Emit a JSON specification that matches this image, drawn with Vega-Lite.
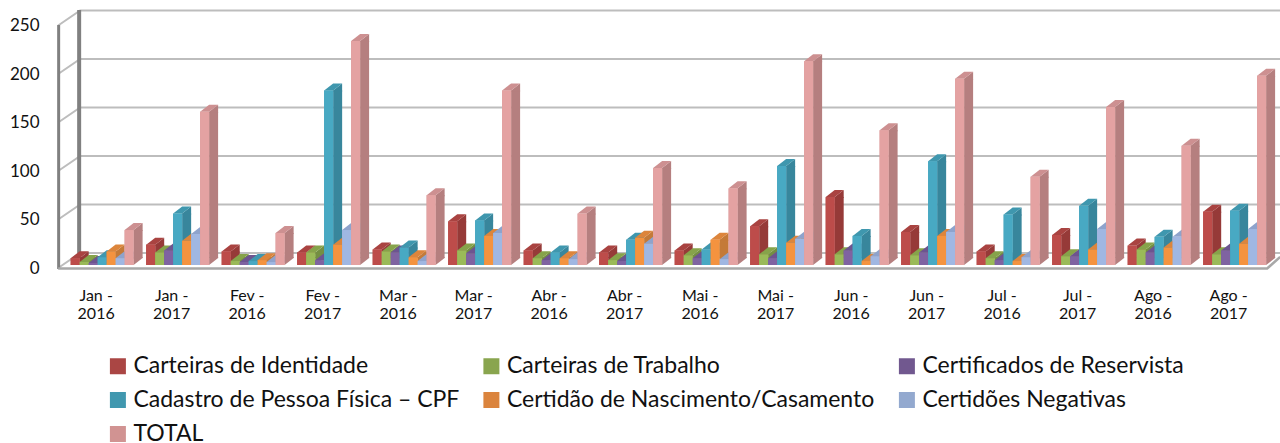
{"$schema":"https://vega.github.io/schema/vega-lite/v6.json","width":1208,"height":242.5,"autosize":{"type":"none"},"padding":{"left":64.4,"top":22.5,"right":7.6,"bottom":178},"background":"white","config":{"view":{"stroke":null},"font":"Lato"},
"datasets":{"bars":[
{"m":"Jan - 2016","s":"Carteiras de Identidade","v":7},{"m":"Jan - 2016","s":"Carteiras de Trabalho","v":3},{"m":"Jan - 2016","s":"Certificados de Reservista","v":2},{"m":"Jan - 2016","s":"Cadastro de Pessoa Física – CPF","v":8},{"m":"Jan - 2016","s":"Certidão de Nascimento/Casamento","v":14},{"m":"Jan - 2016","s":"Certidões Negativas","v":7},{"m":"Jan - 2016","s":"TOTAL","v":36},
{"m":"Jan - 2017","s":"Carteiras de Identidade","v":21},{"m":"Jan - 2017","s":"Carteiras de Trabalho","v":13},{"m":"Jan - 2017","s":"Certificados de Reservista","v":15},{"m":"Jan - 2017","s":"Cadastro de Pessoa Física – CPF","v":53},{"m":"Jan - 2017","s":"Certidão de Nascimento/Casamento","v":25},{"m":"Jan - 2017","s":"Certidões Negativas","v":32},{"m":"Jan - 2017","s":"TOTAL","v":158},
{"m":"Fev - 2016","s":"Carteiras de Identidade","v":14},{"m":"Fev - 2016","s":"Carteiras de Trabalho","v":4},{"m":"Fev - 2016","s":"Certificados de Reservista","v":3},{"m":"Fev - 2016","s":"Cadastro de Pessoa Física – CPF","v":4},{"m":"Fev - 2016","s":"Certidão de Nascimento/Casamento","v":5},{"m":"Fev - 2016","s":"Certidões Negativas","v":3},{"m":"Fev - 2016","s":"TOTAL","v":33},
{"m":"Fev - 2017","s":"Carteiras de Identidade","v":13},{"m":"Fev - 2017","s":"Carteiras de Trabalho","v":13},{"m":"Fev - 2017","s":"Certificados de Reservista","v":5},{"m":"Fev - 2017","s":"Cadastro de Pessoa Física – CPF","v":180},{"m":"Fev - 2017","s":"Certidão de Nascimento/Casamento","v":21},{"m":"Fev - 2017","s":"Certidões Negativas","v":36},{"m":"Fev - 2017","s":"TOTAL","v":231},
{"m":"Mar - 2016","s":"Carteiras de Identidade","v":16},{"m":"Mar - 2016","s":"Carteiras de Trabalho","v":14},{"m":"Mar - 2016","s":"Certificados de Reservista","v":13},{"m":"Mar - 2016","s":"Cadastro de Pessoa Física – CPF","v":18},{"m":"Mar - 2016","s":"Certidão de Nascimento/Casamento","v":8},{"m":"Mar - 2016","s":"Certidões Negativas","v":4},{"m":"Mar - 2016","s":"TOTAL","v":72},
{"m":"Mar - 2017","s":"Carteiras de Identidade","v":45},{"m":"Mar - 2017","s":"Carteiras de Trabalho","v":15},{"m":"Mar - 2017","s":"Certificados de Reservista","v":12},{"m":"Mar - 2017","s":"Cadastro de Pessoa Física – CPF","v":46},{"m":"Mar - 2017","s":"Certidão de Nascimento/Casamento","v":30},{"m":"Mar - 2017","s":"Certidões Negativas","v":33},{"m":"Mar - 2017","s":"TOTAL","v":180},
{"m":"Abr - 2016","s":"Carteiras de Identidade","v":15},{"m":"Abr - 2016","s":"Carteiras de Trabalho","v":7},{"m":"Abr - 2016","s":"Certificados de Reservista","v":5},{"m":"Abr - 2016","s":"Cadastro de Pessoa Física – CPF","v":13},{"m":"Abr - 2016","s":"Certidão de Nascimento/Casamento","v":7},{"m":"Abr - 2016","s":"Certidões Negativas","v":6},{"m":"Abr - 2016","s":"TOTAL","v":53},
{"m":"Abr - 2017","s":"Carteiras de Identidade","v":13},{"m":"Abr - 2017","s":"Carteiras de Trabalho","v":5},{"m":"Abr - 2017","s":"Certificados de Reservista","v":4},{"m":"Abr - 2017","s":"Cadastro de Pessoa Física – CPF","v":26},{"m":"Abr - 2017","s":"Certidão de Nascimento/Casamento","v":28},{"m":"Abr - 2017","s":"Certidões Negativas","v":22},{"m":"Abr - 2017","s":"TOTAL","v":100},
{"m":"Mai - 2016","s":"Carteiras de Identidade","v":15},{"m":"Mai - 2016","s":"Carteiras de Trabalho","v":10},{"m":"Mai - 2016","s":"Certificados de Reservista","v":7},{"m":"Mai - 2016","s":"Cadastro de Pessoa Física – CPF","v":16},{"m":"Mai - 2016","s":"Certidão de Nascimento/Casamento","v":26},{"m":"Mai - 2016","s":"Certidões Negativas","v":6},{"m":"Mai - 2016","s":"TOTAL","v":79},
{"m":"Mai - 2017","s":"Carteiras de Identidade","v":40},{"m":"Mai - 2017","s":"Carteiras de Trabalho","v":11},{"m":"Mai - 2017","s":"Certificados de Reservista","v":7},{"m":"Mai - 2017","s":"Cadastro de Pessoa Física – CPF","v":102},{"m":"Mai - 2017","s":"Certidão de Nascimento/Casamento","v":23},{"m":"Mai - 2017","s":"Certidões Negativas","v":27},{"m":"Mai - 2017","s":"TOTAL","v":210},
{"m":"Jun - 2016","s":"Carteiras de Identidade","v":70},{"m":"Jun - 2016","s":"Carteiras de Trabalho","v":11},{"m":"Jun - 2016","s":"Certificados de Reservista","v":15},{"m":"Jun - 2016","s":"Cadastro de Pessoa Física – CPF","v":30},{"m":"Jun - 2016","s":"Certidão de Nascimento/Casamento","v":4},{"m":"Jun - 2016","s":"Certidões Negativas","v":9},{"m":"Jun - 2016","s":"TOTAL","v":139},
{"m":"Jun - 2017","s":"Carteiras de Identidade","v":34},{"m":"Jun - 2017","s":"Carteiras de Trabalho","v":10},{"m":"Jun - 2017","s":"Certificados de Reservista","v":13},{"m":"Jun - 2017","s":"Cadastro de Pessoa Física – CPF","v":107},{"m":"Jun - 2017","s":"Certidão de Nascimento/Casamento","v":30},{"m":"Jun - 2017","s":"Certidões Negativas","v":34},{"m":"Jun - 2017","s":"TOTAL","v":192},
{"m":"Jul - 2016","s":"Carteiras de Identidade","v":14},{"m":"Jul - 2016","s":"Carteiras de Trabalho","v":7},{"m":"Jul - 2016","s":"Certificados de Reservista","v":5},{"m":"Jul - 2016","s":"Cadastro de Pessoa Física – CPF","v":52},{"m":"Jul - 2016","s":"Certidão de Nascimento/Casamento","v":4},{"m":"Jul - 2016","s":"Certidões Negativas","v":8},{"m":"Jul - 2016","s":"TOTAL","v":91},
{"m":"Jul - 2017","s":"Carteiras de Identidade","v":31},{"m":"Jul - 2017","s":"Carteiras de Trabalho","v":9},{"m":"Jul - 2017","s":"Certificados de Reservista","v":9},{"m":"Jul - 2017","s":"Cadastro de Pessoa Física – CPF","v":61},{"m":"Jul - 2017","s":"Certidão de Nascimento/Casamento","v":16},{"m":"Jul - 2017","s":"Certidões Negativas","v":37},{"m":"Jul - 2017","s":"TOTAL","v":163},
{"m":"Ago - 2016","s":"Carteiras de Identidade","v":20},{"m":"Ago - 2016","s":"Carteiras de Trabalho","v":16},{"m":"Ago - 2016","s":"Certificados de Reservista","v":13},{"m":"Ago - 2016","s":"Cadastro de Pessoa Física – CPF","v":29},{"m":"Ago - 2016","s":"Certidão de Nascimento/Casamento","v":18},{"m":"Ago - 2016","s":"Certidões Negativas","v":29},{"m":"Ago - 2016","s":"TOTAL","v":123},
{"m":"Ago - 2017","s":"Carteiras de Identidade","v":55},{"m":"Ago - 2017","s":"Carteiras de Trabalho","v":11},{"m":"Ago - 2017","s":"Certificados de Reservista","v":15},{"m":"Ago - 2017","s":"Cadastro de Pessoa Física – CPF","v":56},{"m":"Ago - 2017","s":"Certidão de Nascimento/Casamento","v":22},{"m":"Ago - 2017","s":"Certidões Negativas","v":37},{"m":"Ago - 2017","s":"TOTAL","v":195}
],"ticks":[{"t":0},{"t":50},{"t":100},{"t":150},{"t":200},{"t":250}],"floor":[{"t":0}]},
"data":{"name":"bars"},
"encoding":{
"x":{"field":"m","type":"nominal","sort":null,"title":null,"scale":{"domain":["Jan - 2016","Jan - 2017","Fev - 2016","Fev - 2017","Mar - 2016","Mar - 2017","Abr - 2016","Abr - 2017","Mai - 2016","Mai - 2017","Jun - 2016","Jun - 2017","Jul - 2016","Jul - 2017","Ago - 2016","Ago - 2017"],"paddingInner":0.16667,"paddingOuter":0.08333},"axis":{"domain":false,"ticks":false,"grid":false,"labelAngle":0,"labelOffset":-6,"labelPadding":22,"labelFontSize":16,"labelColor":"#111111","labelFont":"Lato","labelLineHeight":18,"labelExpr":"[split(datum.label,' - ')[0]+' -',split(datum.label,' - ')[1]]","labelSeparation":0,"labelOverlap":false}},
"xOffset":{"field":"s","type":"nominal","sort":null,"scale":{"type":"band","domain":["Carteiras de Identidade","Carteiras de Trabalho","Certificados de Reservista","Cadastro de Pessoa Física – CPF","Certidão de Nascimento/Casamento","Certidões Negativas","TOTAL"],"paddingInner":0,"paddingOuter":0}},
"y":{"field":"v","type":"quantitative","title":null,"scale":{"domain":[0,250],"nice":false},"axis":{"domain":false,"ticks":false,"grid":false,"values":[0,50,100,150,200,250],"labelPadding":25.4,"labelOffset":3,"labelFontSize":17,"labelColor":"#111111","labelFont":"Lato"}}
},
"layer":[
{"data":{"name":"ticks"},"mark":{"type":"point","shape":"M-44,3L-22,-12L1178,-12","filled":false,"size":4,"stroke":"#bdbdbd","strokeWidth":2,"opacity":1},"encoding":{"x":{"datum":"Jan - 2016"},"xOffset":null,"y":{"field":"t","type":"quantitative"}}},
{"data":{"name":"floor"},"mark":{"type":"point","shape":"M-23,-12L-23,-255","filled":false,"size":4,"stroke":"#808080","strokeWidth":4,"opacity":1},"encoding":{"x":{"datum":"Jan - 2016"},"xOffset":null,"y":{"field":"t","type":"quantitative"}}},
{"data":{"name":"floor"},"mark":{"type":"point","shape":"M-43.5,4L-43.5,-240","filled":false,"size":4,"stroke":"#808080","strokeWidth":3,"opacity":1},"encoding":{"x":{"datum":"Jan - 2016"},"xOffset":null,"y":{"field":"t","type":"quantitative"}}},
{"data":{"name":"floor"},"mark":{"type":"point","shape":"M-44,3.5L1165,3.5L1178,-8","filled":false,"size":4,"stroke":"#a8a8a8","strokeWidth":2.5,"opacity":1},"encoding":{"x":{"datum":"Jan - 2016"},"xOffset":null,"y":{"field":"t","type":"quantitative"}}},
{"mark":{"type":"rule","strokeWidth":9,"strokeCap":"butt","y2Offset":-7},"encoding":{"y2":{"datum":0},"xOffset":{"field":"s","type":"nominal","sort":null,"scale":{"type":"band","domain":["Carteiras de Identidade","Carteiras de Trabalho","Certificados de Reservista","Cadastro de Pessoa Física – CPF","Certidão de Nascimento/Casamento","Certidões Negativas","TOTAL"],"range":[9,71.9],"paddingInner":0,"paddingOuter":0}},"color":{"field":"s","type":"nominal","sort":null,"legend":null,"scale":{"domain":["Carteiras de Identidade","Carteiras de Trabalho","Certificados de Reservista","Cadastro de Pessoa Física – CPF","Certidão de Nascimento/Casamento","Certidões Negativas","TOTAL"],"range":["#963a38","#748f42","#5f4880","#38869c","#c47a38","#7e92ba","#b57f7f"]}}}},
{"mark":{"type":"point","shape":"M4.5,0L13.5,-7L13.5,1L4.5,1Z","filled":true,"size":4,"opacity":1},"encoding":{"color":{"field":"s","type":"nominal","sort":null,"legend":null,"scale":{"domain":["Carteiras de Identidade","Carteiras de Trabalho","Certificados de Reservista","Cadastro de Pessoa Física – CPF","Certidão de Nascimento/Casamento","Certidões Negativas","TOTAL"],"range":["#963a38","#748f42","#5f4880","#38869c","#c47a38","#7e92ba","#b57f7f"]}}}},
{"mark":{"type":"point","shape":"M4.5,0L13.5,-7L13.5,-8L4.5,-8Z","filled":true,"size":4,"opacity":1},"encoding":{"y":{"datum":0},"color":{"field":"s","type":"nominal","sort":null,"legend":null,"scale":{"domain":["Carteiras de Identidade","Carteiras de Trabalho","Certificados de Reservista","Cadastro de Pessoa Física – CPF","Certidão de Nascimento/Casamento","Certidões Negativas","TOTAL"],"range":["#963a38","#748f42","#5f4880","#38869c","#c47a38","#7e92ba","#b57f7f"]}}}},
{"mark":{"type":"point","shape":"M-4.5,0L4.5,0L13.5,-7L4.5,-7Z","filled":true,"size":4,"opacity":1},"encoding":{"color":{"field":"s","type":"nominal","sort":null,"legend":null,"scale":{"domain":["Carteiras de Identidade","Carteiras de Trabalho","Certificados de Reservista","Cadastro de Pessoa Física – CPF","Certidão de Nascimento/Casamento","Certidões Negativas","TOTAL"],"range":["#a94341","#86a34a","#6d5490","#3f97ae","#dc853c","#8ea3cc","#cd9091"]}}}},
{"mark":{"type":"bar"},"encoding":{"color":{"field":"s","type":"nominal","sort":null,"scale":{"domain":["Carteiras de Identidade","Carteiras de Trabalho","Certificados de Reservista","Cadastro de Pessoa Física – CPF","Certidão de Nascimento/Casamento","Certidões Negativas","TOTAL"],"range":["#aa4644","#89a54e","#71588f","#4198af","#db843d","#93a9cf","#d19392"]},"legend":{"title":null,"orient":"none","direction":"horizontal","legendX":42,"legendY":332,"columns":3,"gridAlign":"each","symbolType":"square","symbolSize":256,"symbolStrokeWidth":0,"labelFontSize":23,"labelFont":"Lato","labelColor":"#111111","labelOffset":4,"columnPadding":20.5,"rowPadding":10,"labelLimit":500}}}},
{"mark":{"type":"bar"},"encoding":{"color":{"field":"s","type":"nominal","sort":null,"legend":null,"scale":{"domain":["Carteiras de Identidade","Carteiras de Trabalho","Certificados de Reservista","Cadastro de Pessoa Física – CPF","Certidão de Nascimento/Casamento","Certidões Negativas","TOTAL"],"range":["#bd4c4a","#9aba58","#7f63a1","#48a9c3","#f4933f","#a0b7e2","#e4a2a2"]}}}}
],
"resolve":{"scale":{"color":"independent","xOffset":"independent"}}
}
